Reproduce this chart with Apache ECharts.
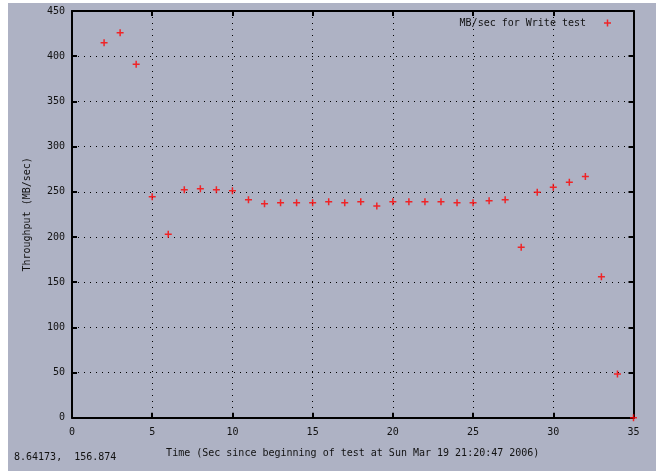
<!DOCTYPE html>
<html><head><meta charset="utf-8">
<script src="https://cdn.jsdelivr.net/npm/echarts@6/dist/echarts.min.js"></script>
<style>html,body{margin:0;padding:0;background:#fff}#c{width:657px;height:471px}</style>
</head><body><div id="c"></div>
<script>
const seconds = [2,3,4,5,6,7,8,9,10,11,12,13,14,15,16,17,18,19,20,21,22,23,24,25,26,27,28,29,30,31,32,33,34,35];
const throughput = [415,426,391,244.5,203,252.3,253.4,252.3,251.2,241.2,236.8,237.9,237.9,237.9,239,237.9,239,234.2,239,239,239,239,237.9,237.9,240.1,241.2,188.5,249.4,254.9,260.4,267,156,48.4,0];
const seriesName = 'MB/sec for Write test';
const xTitle = 'Time (Sec since beginning of test at Sun Mar 19 21:20:47 2006)';
const yTitle = 'Throughput (MB/sec)';
const cornerText = '8.64173,  156.874';

const font = 'DejaVu Sans Mono';
const plus = 'path://M0,2.75h7v1.5h-7zM2.75,0h1.5v7h-1.5z';
const chart = echarts.init(document.getElementById('c'), null, {renderer:'canvas'});
const grid = {left:72, right:23.5, top:11, bottom:53.3, show:false};
const dotted = {show:true, lineStyle:{color:'#000', width:1, type:[1,5]}};
chart.setOption({
  animation:false,
  backgroundColor:'#fff',
  graphic:[
    {type:'rect', z:-10, shape:{x:8, y:3, width:648, height:468}, style:{fill:'#aeb2c4'}},
    {type:'text', left:14, top:452, style:{text:cornerText, font:'10px "DejaVu Sans Mono"', fill:'#111'}}
  ],
  grid:grid,
  legend:{show:true, right:41, top:13, align:'right', itemWidth:7, itemHeight:7, itemGap:0,
    textStyle:{fontFamily:font, fontSize:10, color:'#111', padding:[0,13,0,0]},
    data:[{name:seriesName, icon:plus}]},
  xAxis:[
    {type:'value', min:0, max:35, interval:5, position:'bottom',
     name:xTitle, nameLocation:'middle', nameGap:31, nameTextStyle:{fontFamily:font, fontSize:10, color:'#111'},
     axisLine:{show:true, onZero:false, lineStyle:{color:'#000', width:2}},
     axisTick:{show:true, inside:true, length:5, lineStyle:{color:'#000', width:2}},
     axisLabel:{margin:10, fontFamily:font, fontSize:10, color:'#111'},
     splitLine:dotted},
    {type:'value', min:0, max:35, interval:5, position:'top',
     axisLine:{show:true, onZero:false, lineStyle:{color:'#000', width:2}},
     axisTick:{show:true, inside:true, length:5, lineStyle:{color:'#000', width:2}},
     axisLabel:{show:false}, splitLine:{show:false}}
  ],
  yAxis:[
    {type:'value', min:0, max:450, interval:50, position:'left',
     name:yTitle, nameLocation:'middle', nameGap:40, nameTextStyle:{fontFamily:font, fontSize:10, color:'#111'},
     axisLine:{show:true, onZero:false, lineStyle:{color:'#000', width:2}},
     axisTick:{show:true, inside:true, length:5, lineStyle:{color:'#000', width:2}},
     axisLabel:{margin:7, fontFamily:font, fontSize:10, color:'#111'},
     splitLine:dotted},
    {type:'value', min:0, max:450, interval:50, position:'right',
     axisLine:{show:true, onZero:false, lineStyle:{color:'#000', width:2}},
     axisTick:{show:true, inside:true, length:5, lineStyle:{color:'#000', width:2}},
     axisLabel:{show:false}, splitLine:{show:false}}
  ],
  series:[{
    name:seriesName, type:'scatter', symbol:plus, symbolSize:7,
    itemStyle:{color:'#ff0000'}, clip:false,
    data:seconds.map((s,i)=>[s, throughput[i]])
  }]
});
</script></body></html>
